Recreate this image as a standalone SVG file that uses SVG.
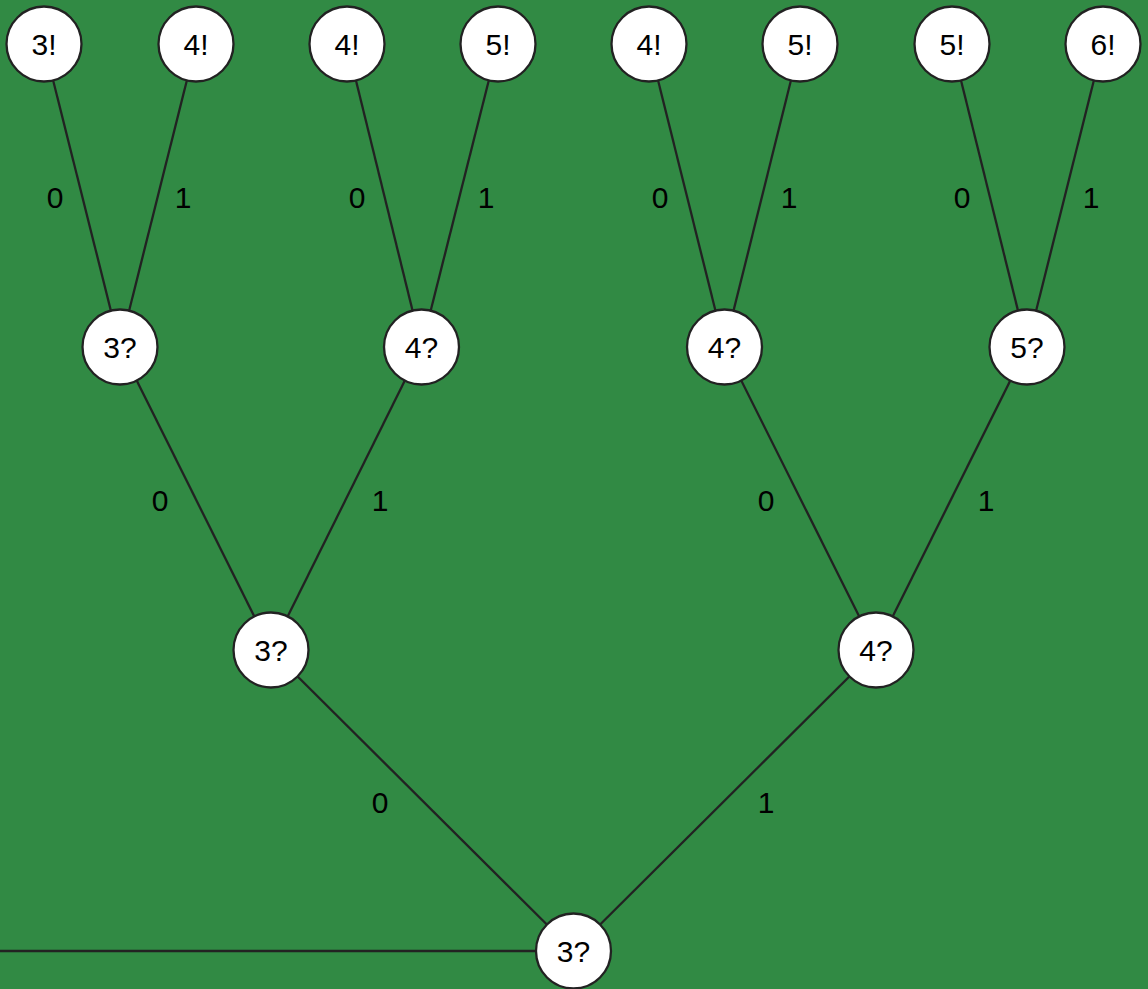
<svg xmlns="http://www.w3.org/2000/svg" width="1148" height="989" viewBox="0 0 1148 989">
<style>
.n circle{fill:#fff;stroke:#222;stroke-width:2.3}
.n text{font-family:"Liberation Sans",Arial,sans-serif;font-size:30px;fill:#000;text-anchor:middle}
.e line{stroke:#222;stroke-width:2.3}
.l{font-family:"Liberation Sans",Arial,sans-serif;font-size:30px;fill:#000;text-anchor:middle}
</style>
<rect width="1148" height="989" fill="#318a44"/>
<g id="connectors" class="e">
<line x1="0" y1="951" x2="573.5" y2="951"/>
<line x1="573.5" y1="951" x2="271" y2="650"/>
<line x1="573.5" y1="951" x2="876" y2="650"/>
<line x1="271" y1="650" x2="120" y2="347"/>
<line x1="271" y1="650" x2="421.5" y2="347"/>
<line x1="876" y1="650" x2="724.5" y2="347"/>
<line x1="876" y1="650" x2="1027" y2="347"/>
<line x1="120" y1="347" x2="44" y2="44"/>
<line x1="120" y1="347" x2="196" y2="44"/>
<line x1="421.5" y1="347" x2="347" y2="44"/>
<line x1="421.5" y1="347" x2="498" y2="44"/>
<line x1="724.5" y1="347" x2="649" y2="44"/>
<line x1="724.5" y1="347" x2="800" y2="44"/>
<line x1="1027" y1="347" x2="952" y2="44"/>
<line x1="1027" y1="347" x2="1103" y2="44"/>
<text class="l" x="55" y="208">0</text>
<text class="l" x="183" y="208">1</text>
<text class="l" x="357" y="208">0</text>
<text class="l" x="486" y="208">1</text>
<text class="l" x="660" y="208">0</text>
<text class="l" x="789" y="208">1</text>
<text class="l" x="962" y="208">0</text>
<text class="l" x="1091" y="208">1</text>
<text class="l" x="160" y="511">0</text>
<text class="l" x="380" y="511">1</text>
<text class="l" x="766" y="511">0</text>
<text class="l" x="986" y="511">1</text>
<text class="l" x="380" y="813">0</text>
<text class="l" x="766" y="813">1</text>
</g>
<g id="root" class="n"><circle cx="573.5" cy="951" r="37.5"/><text x="573.5" y="962">3?</text></g>
<g id="n0" class="n"><circle cx="271" cy="650" r="37.5"/><text x="271" y="661">3?</text></g>
<g id="n1" class="n"><circle cx="876" cy="650" r="37.5"/><text x="876" y="661">4?</text></g>
<g id="n00" class="n"><circle cx="120" cy="347" r="37.5"/><text x="120" y="358">3?</text></g>
<g id="n01" class="n"><circle cx="421.5" cy="347" r="37.5"/><text x="421.5" y="358">4?</text></g>
<g id="n10" class="n"><circle cx="724.5" cy="347" r="37.5"/><text x="724.5" y="358">4?</text></g>
<g id="n11" class="n"><circle cx="1027" cy="347" r="37.5"/><text x="1027" y="358">5?</text></g>
<g id="n000" class="n"><circle cx="44" cy="44" r="37.5"/><text x="44" y="55">3!</text></g>
<g id="n001" class="n"><circle cx="196" cy="44" r="37.5"/><text x="196" y="55">4!</text></g>
<g id="n010" class="n"><circle cx="347" cy="44" r="37.5"/><text x="347" y="55">4!</text></g>
<g id="n011" class="n"><circle cx="498" cy="44" r="37.5"/><text x="498" y="55">5!</text></g>
<g id="n100" class="n"><circle cx="649" cy="44" r="37.5"/><text x="649" y="55">4!</text></g>
<g id="n101" class="n"><circle cx="800" cy="44" r="37.5"/><text x="800" y="55">5!</text></g>
<g id="n110" class="n"><circle cx="952" cy="44" r="37.5"/><text x="952" y="55">5!</text></g>
<g id="n111" class="n"><circle cx="1103" cy="44" r="37.5"/><text x="1103" y="55">6!</text></g>
</svg>
